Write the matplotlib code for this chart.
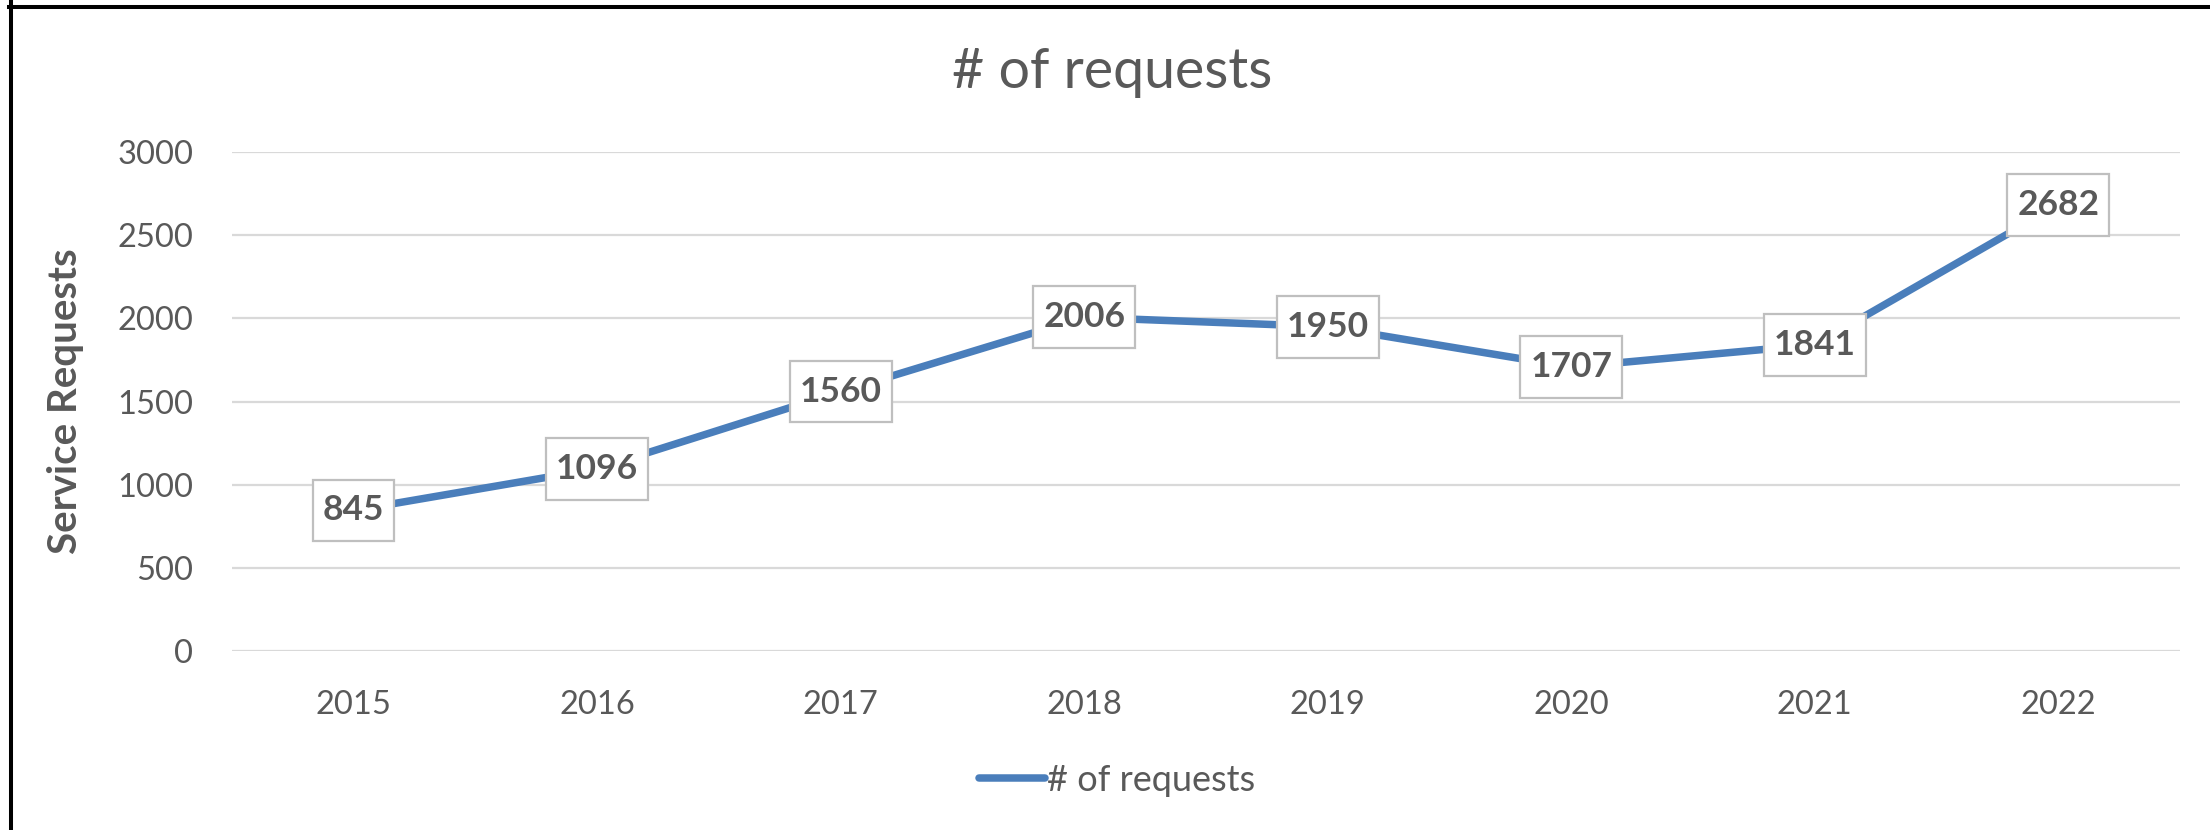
import matplotlib
matplotlib.use("Agg")
import matplotlib.pyplot as plt
from matplotlib.lines import Line2D
from matplotlib.path import Path

plt.rcParams['font.family'] = ['Lato', 'DejaVu Sans']

years = ["2015", "2016", "2017", "2018", "2019", "2020", "2021", "2022"]
requests = [845, 1096, 1560, 2006, 1950, 1707, 1841, 2682]
y_ticks = [0, 500, 1000, 1500, 2000, 2500, 3000]

W, H = 2210, 830
fig = plt.figure(figsize=(W / 100, H / 100), dpi=100)
fig.patch.set_facecolor("white")

ax = fig.add_axes([232 / W, (H - 651) / H, (2180 - 232) / W, (651 - 152) / H])
x = list(range(len(years)))
line_color = "#4A7EBB"
text_color = "#595959"


def label_box(x0, y0, width, height, mutation_size):
    px = 0.28 * mutation_size
    py = 0.42 * mutation_size
    x0, y0 = x0 - px, y0 - py
    x1, y1 = x0 + width + 2 * px, y0 + height + 2 * py
    return Path([(x0, y0), (x1, y0), (x1, y1), (x0, y1), (x0, y0)], closed=True)


ax.plot(x, requests, color=line_color, lw=5.4, solid_capstyle="round",
        solid_joinstyle="round", zorder=3, label="# of requests")

for xi, v in zip(x, requests):
    ax.annotate(str(v), (xi, v), ha="center", va="center", fontsize=25.5,
                fontweight="bold", color=text_color, zorder=5,
                bbox=dict(boxstyle=label_box, fc="white",
                          ec="#BFBFBF", lw=1.6))

ax.set_xlim(-0.5, len(years) - 0.5)
ax.set_ylim(0, 3000)
ax.set_yticks(y_ticks)
ax.set_xticks(x)
ax.set_xticklabels(years)
ax.tick_params(axis="both", length=0, labelsize=23.5, labelcolor=text_color)
ax.tick_params(axis="y", pad=28)
ax.tick_params(axis="x", pad=28)
ax.grid(axis="y", color="#D9D9D9", lw=1.6, zorder=0)
ax.set_axisbelow(True)
for s in ax.spines.values():
    s.set_visible(False)

ax.set_ylabel("Service Requests", fontsize=29, fontweight="bold",
              color=text_color)
ax.yaxis.set_label_coords((84 - 232) / (2180 - 232), 0.5)

fig.text(1112 / W, (H - 72) / H, "# of requests", ha="center", va="center",
         fontsize=40, color=text_color)

leg = fig.legend(loc="center", bbox_to_anchor=(1117 / W, (H - 780) / H),
                 frameon=False, fontsize=26, handlelength=1.85,
                 handletextpad=0.05)
for t in leg.get_texts():
    t.set_color(text_color)

# screenshot frame lines (left and top)
fig.add_artist(Line2D([11 / W, 11 / W], [0, 1], color="black", lw=2.9,
                      transform=fig.transFigure))
fig.add_artist(Line2D([9 / W, 1], [1 - 7 / H, 1 - 7 / H], color="black",
                      lw=2.9, transform=fig.transFigure))

fig.savefig("out.png", dpi=100, facecolor="white")
